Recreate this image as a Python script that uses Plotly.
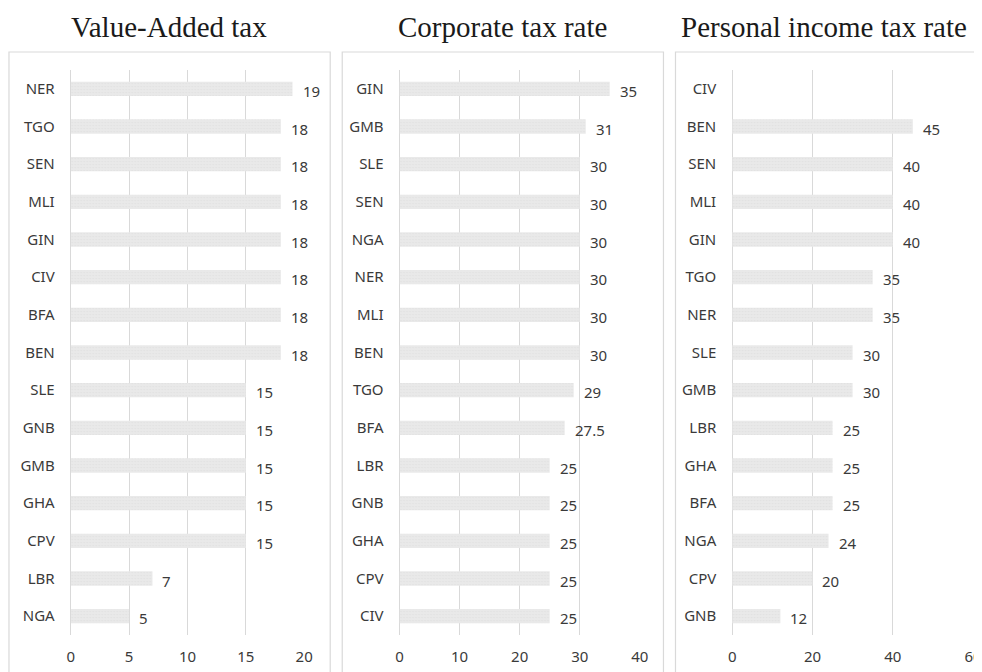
import plotly.graph_objects as go

W, H = 982, 672
# measured mapping of the page: image_x = SX * (fig_x + OX), image_y = fig_y + OY
SX, OX, OY = 0.986, 12.2, 8.0

# ---- data ----
vat_countries = ["NER", "TGO", "SEN", "MLI", "GIN", "CIV", "BFA", "BEN", "SLE", "GNB", "GMB", "GHA", "CPV", "LBR", "NGA"]
vat_values = [19, 18, 18, 18, 18, 18, 18, 18, 15, 15, 15, 15, 15, 7, 5]

cit_countries = ["GIN", "GMB", "SLE", "SEN", "NGA", "NER", "MLI", "BEN", "TGO", "BFA", "LBR", "GNB", "GHA", "CPV", "CIV"]
cit_values = [35, 31, 30, 30, 30, 30, 30, 30, 29, 27.5, 25, 25, 25, 25, 25]

pit_countries = ["CIV", "BEN", "SEN", "MLI", "GIN", "TGO", "NER", "SLE", "GMB", "LBR", "GHA", "BFA", "NGA", "CPV", "GNB"]
pit_values = [None, 45, 40, 40, 40, 35, 35, 30, 30, 25, 25, 25, 24, 20, 12]

titles = ["Value-Added tax", "Corporate tax rate", "Personal income tax rate"]
x_ticks = [[0, 5, 10, 15, 20], [0, 10, 20, 30, 40], [0, 20, 40, 60]]
x_ranges = [[0, 20], [0, 40], [0, 60]]

# ---- layout geometry (target pixels in the picture) ----
plot_x = [(70.7, 304.0), (399.3, 639.3), (731.7, 972.3)]
plot_y = (70.0, 635.0)
boxes = [(9, 330), (342, 663), (675, 1010)]
title_cx = [169, 502, 823]

TICK_COLOR = "#3a3a3a"
GRID = "#d9d9d9"
TICK_FONT = dict(family="Noto Sans", size=15, color=TICK_COLOR)


def px(v):
    return (v / SX - OX) / W


def py(v):
    return 1 - (v - OY) / H


fig = go.Figure()
panels = [(vat_countries, vat_values), (cit_countries, cit_values), (pit_countries, pit_values)]

annotations = []
shapes = []
for i, (cats, vals) in enumerate(panels):
    xa = "x" if i == 0 else f"x{i+1}"
    ya = "y" if i == 0 else f"y{i+1}"
    fig.add_trace(go.Bar(
        x=vals, y=cats, orientation="h", xaxis=xa, yaxis=ya,
        marker=dict(color="#e8e8e8", line=dict(width=0),
                    pattern=dict(shape=".", fgcolor="#dadada", bgcolor="#e9e9e9", size=3, solidity=0.25)),
        width=0.38, showlegend=False, hoverinfo="skip",
    ))
    for c, v in zip(cats, vals):
        if v is None:
            continue
        annotations.append(dict(
            x=v, y=c, xref=xa, yref=ya, text=f"{v:g}", showarrow=False,
            xanchor="left", yanchor="middle", xshift=8, yshift=-2,
            font=dict(family="Noto Sans", size=15, color=TICK_COLOR),
        ))
    x0, x1 = plot_x[i]
    axkey = "xaxis" if i == 0 else f"xaxis{i+1}"
    aykey = "yaxis" if i == 0 else f"yaxis{i+1}"
    fig.update_layout(**{
        axkey: dict(
            domain=[px(x0), px(x1)], anchor=ya, range=x_ranges[i],
            tickmode="array", tickvals=x_ticks[i], ticktext=[str(t) for t in x_ticks[i]],
            showgrid=True, gridcolor=GRID, gridwidth=1,
            zeroline=True, zerolinecolor=GRID, zerolinewidth=1,
            showline=False, ticks="", tickfont=TICK_FONT, ticklabelstandoff=11,
            fixedrange=True,
        ),
        aykey: dict(
            domain=[py(plot_y[1]), py(plot_y[0])], anchor=xa,
            type="category", categoryorder="array", categoryarray=cats,
            range=[len(cats) - 0.5, -0.5],
            showgrid=False, zeroline=False, showline=False, ticks="",
            tickfont=TICK_FONT, ticklabelstandoff=15, fixedrange=True,
        ),
    })
    bx0, bx1 = boxes[i]
    shapes.append(dict(type="rect", xref="paper", yref="paper",
                       x0=px(bx0), x1=px(bx1), y0=py(700), y1=py(52),
                       line=dict(color="#d9d9d9", width=1.2), fillcolor="rgba(0,0,0,0)", layer="below"))
    annotations.append(dict(
        x=px(title_cx[i]), y=py(27), xref="paper", yref="paper",
        text=titles[i], showarrow=False, xanchor="center", yanchor="middle",
        font=dict(family="Liberation Serif", size=29, color="#1a1a1a"),
    ))

fig.update_layout(
    width=W, height=H, margin=dict(l=0, r=0, t=0, b=0),
    paper_bgcolor="white", plot_bgcolor="white",
    annotations=annotations, shapes=shapes,
)

fig.write_html("out.html", config={"displayModeBar": False})
